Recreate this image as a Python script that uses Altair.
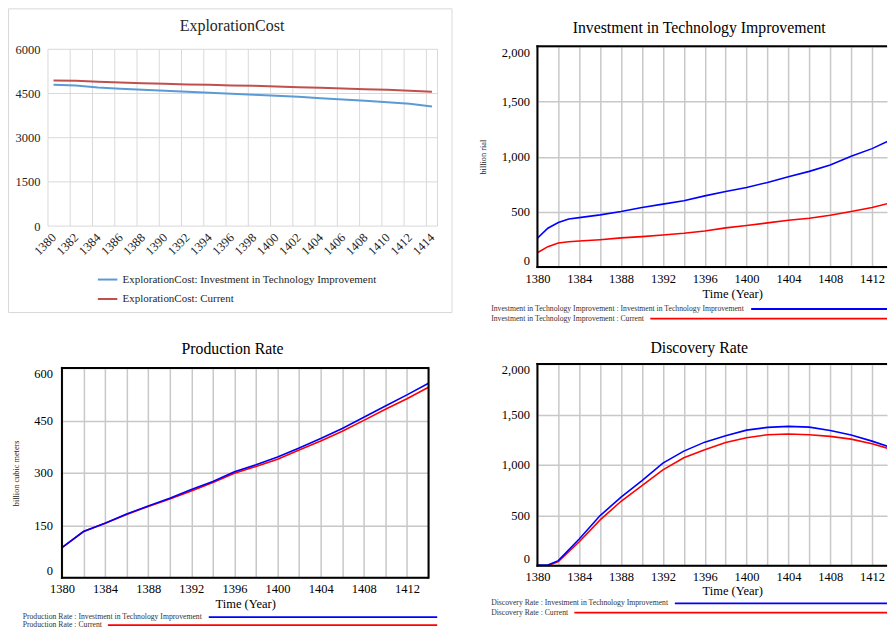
import altair as alt
import pandas as pd

FONT = "Liberation Serif"

# ---------------- data ----------------
exp_title = "ExplorationCost"
exp_categories = list(range(1380, 1415))
exp_years = list(range(1380, 1415, 2))
exp_invest = [4794, 4771, 4703, 4658, 4624, 4590, 4556, 4523, 4489, 4455,
              4421, 4387, 4342, 4297, 4251, 4206, 4150, 4059]
exp_current = [4941, 4929, 4895, 4873, 4850, 4828, 4805, 4794, 4771, 4760,
               4737, 4715, 4692, 4669, 4647, 4624, 4590, 4556]
exp_names = ["ExplorationCost: Investment in Technology Improvement",
             "ExplorationCost: Current"]
exp_colors = ["#5b9bd5", "#c0504d"]
exp_yticks = [0, 1500, 3000, 4500, 6000]

scenarios = ["Investment in Technology Improvement", "Current"]
vensim_colors = ["#0000ff", "#ff0000"]
vensim_xgrid = list(range(1380, 1415, 2))

inv_title = "Investment in Technology Improvement"
inv_years = [1380, 1381, 1382, 1383, 1384, 1386, 1388, 1390, 1392, 1394,
             1396, 1398, 1400, 1402, 1404, 1406, 1408, 1410, 1412, 1414]
inv_invest = [261, 352, 403, 436, 448, 473, 503, 539, 570, 600,
              645, 685, 721, 767, 818, 867, 924, 1003, 1073, 1161]
inv_current = [130, 185, 218, 230, 236, 248, 264, 276, 291, 306,
               327, 355, 376, 400, 424, 442, 470, 503, 539, 588]
inv_yticks = [0, 500, 1000, 1500, 2000]
inv_unit = "billion rial"

prod_title = "Production Rate"
prod_years = list(range(1380, 1415, 2))
prod_invest = [86, 132, 156, 182, 205, 227, 252, 275, 303, 323,
               345, 371, 398, 427, 459, 491, 523, 556]
prod_current = [86, 132, 156, 181, 204, 225, 248, 272, 299, 318,
                339, 365, 391, 419, 450, 482, 512, 545]
prod_yticks = [0, 150, 300, 450, 600]
prod_unit = "billion cubic meters"

disc_title = "Discovery Rate"
disc_years = [1380, 1381, 1382, 1384, 1386, 1388, 1390, 1392, 1394, 1396,
              1398, 1400, 1402, 1404, 1406, 1408, 1410, 1412, 1414]
disc_invest = [7, 7, 50, 265, 497, 679, 844, 1017, 1136, 1225,
               1288, 1344, 1371, 1381, 1374, 1341, 1295, 1235, 1166]
disc_current = [0, 0, 40, 238, 454, 639, 795, 950, 1070, 1149,
                1222, 1268, 1298, 1305, 1298, 1282, 1255, 1209, 1149]
disc_yticks = [0, 500, 1000, 1500, 2000]

x_title = "Time (Year)"

one = pd.DataFrame({"k": [0]})


def cell(x0, x1, y0, y1):
    """invisible rectangle that fixes the panel's layout bounds"""
    return alt.Chart(one).mark_rect(opacity=0).encode(
        x=alt.value(x0), x2=alt.value(x1), y=alt.value(y0), y2=alt.value(y1))


def text_at(t, x, y, size, color="black", align="center"):
    return alt.Chart(pd.DataFrame({"t": [t]})).mark_text(
        font=FONT, fontSize=size, color=color, align=align, baseline="middle"
    ).encode(text="t:N", x=alt.value(x), y=alt.value(y))


# ---------------- panel 1 : Excel style ----------------
# The view is offset from the plot area (14px right, 3px up) so that its origin
# lines up with the neighbouring panels in the grid layout.
SH = 14
SV = 3
W1, H1 = 376, 180
exp_df = pd.DataFrame({
    "year": exp_years + exp_years,
    "value": exp_invest + exp_current,
    "series": [exp_names[0]] * len(exp_years) + [exp_names[1]] * len(exp_years),
})
grid_df = pd.DataFrame({"b": [c - 0.5 for c in exp_categories[::2]] + [exp_categories[-1] + 0.5]})
hgrid_df = pd.DataFrame({"v": exp_yticks})
xs1 = alt.Scale(domain=[exp_categories[0] - 0.5, exp_categories[-1] + 0.5],
                range=[-SH, W1], nice=False, zero=False)
ys1 = alt.Scale(domain=[0, 6000], range=[H1, SV], nice=False)
ax1x = alt.Axis(values=exp_years, format="d", labelAngle=-45, labelAlign="right",
                labelBaseline="middle", labelFont=FONT, labelFontSize=12.5,
                labelColor="#262626", labelPadding=9, labelFlush=False,
                labelOverlap=False, grid=False, ticks=False, domain=False, title=None)
ax1y = alt.Axis(values=exp_yticks, format="d", labelFont=FONT, labelFontSize=12.5,
                labelColor="#262626", labelPadding=8, offset=SH, grid=False,
                ticks=False, domain=False, title=None)

cell1 = cell(-54, 392, -38, 268)
border1 = alt.Chart(one).mark_rect(fillOpacity=0, stroke="#d9d9d9", strokeWidth=1).encode(
    x=alt.value(-53.5), x2=alt.value(390.5), y=alt.value(-37.5), y2=alt.value(266.5))
hgrid1 = alt.Chart(hgrid_df).mark_rule(color="#d9d9d9", strokeWidth=1).encode(
    y=alt.Y("v:Q", scale=ys1, axis=ax1y), x=alt.value(-SH), x2=alt.value(W1))
vgrid1 = alt.Chart(grid_df).mark_rule(color="#d9d9d9", strokeWidth=1).encode(
    x=alt.X("b:Q", scale=xs1, axis=ax1x), y=alt.value(SV), y2=alt.value(H1))
lines1 = alt.Chart(exp_df).mark_line(strokeWidth=2).encode(
    x=alt.X("year:Q", scale=xs1, axis=ax1x),
    y=alt.Y("value:Q", scale=ys1, axis=ax1y),
    color=alt.Color("series:N", scale=alt.Scale(domain=exp_names, range=exp_colors),
                    legend=alt.Legend(title=None, orient="none", legendX=34.7, legendY=222.5,
                                      symbolType="stroke", symbolSize=380, symbolStrokeWidth=2,
                                      labelFont=FONT, labelFontSize=11, labelColor="#262626",
                                      labelOffset=4, rowPadding=3.5, padding=0, labelLimit=400)),
)
title1 = text_at(exp_title, 170.3, -20.3, 16, "#262626")
p1 = alt.layer(cell1, border1, hgrid1, vgrid1, lines1, title1).properties(width=W1, height=H1)


# ---------------- Vensim panels ----------------
def vensim(title, years, v_inv, v_cur, ytickv, ytitle, W, H, xmax, cellbox,
           title_xy, ylab_pad, ytitle_pad, xtitle_pad, xtitle_x,
           leg_x, leg_rows, leg_starts, leg_end, right_frame):
    xs = alt.Scale(domain=[1380, xmax], nice=False, zero=False)
    ys = alt.Scale(domain=[ytickv[0], ytickv[-1]], nice=False)
    xkw = dict(values=[v for v in vensim_xgrid if v <= xmax], format="d",
               labelExpr="datum.value % 4 == 0 ? datum.label : ''",
               labelFont=FONT, labelFontSize=12.5, labelColor="black", labelPadding=5,
               labelFlush=False, labelOverlap=False, grid=True, gridColor="#c8c8c8",
               gridWidth=1.5, ticks=False, domain=False, title=x_title, titleFont=FONT,
               titleFontSize=12.5, titleFontWeight="normal", titleColor="black",
               titlePadding=xtitle_pad)
    if xtitle_x is not None:
        xkw["titleX"] = xtitle_x
    ax_x = alt.Axis(**xkw)
    baseline = {
        "condition": [
            {"test": f"datum.value == {ytickv[0]}", "value": "bottom"},
            {"test": f"datum.value == {ytickv[-1]}", "value": "top"},
        ],
        "value": "middle",
    }
    ykw = dict(values=ytickv, format=",.0f", labelFont=FONT, labelFontSize=12.5,
               labelColor="black", labelPadding=ylab_pad, labelBaseline=baseline,
               grid=True, gridColor="#c8c8c8",
               gridWidth=1.5, ticks=False, domain=False)
    if ytitle:
        ykw.update(title=ytitle, titleFont=FONT, titleFontSize=8.3, titleFontWeight="normal",
                   titleColor="#222222", titlePadding=ytitle_pad)
    else:
        ykw["title"] = None
    ax_y = alt.Axis(**ykw)

    df = pd.DataFrame({"year": years, "a": v_inv, "b": v_cur})
    base = alt.Chart(df)
    l_cur = base.mark_line(color=vensim_colors[1], strokeWidth=1.6, clip=True).encode(
        x=alt.X("year:Q", scale=xs, axis=ax_x), y=alt.Y("b:Q", scale=ys, axis=ax_y))
    l_inv = base.mark_line(color=vensim_colors[0], strokeWidth=1.6, clip=True).encode(
        x=alt.X("year:Q", scale=xs, axis=ax_x), y=alt.Y("a:Q", scale=ys, axis=ax_y))

    fr = alt.Chart(one).mark_rule(color="black", strokeWidth=2)
    frames = [
        fr.encode(x=alt.value(0), y=alt.value(-1), y2=alt.value(H + 1)),
        fr.encode(x=alt.value(-1), x2=alt.value(W), y=alt.value(0)),
        fr.encode(x=alt.value(-1), x2=alt.value(W), y=alt.value(H)),
    ]
    if right_frame:
        frames.append(fr.encode(x=alt.value(W), y=alt.value(-1), y2=alt.value(H + 1)))

    legend = []
    for i, sc in enumerate(scenarios):
        name = f"{title} : {sc}"
        legend.append(text_at(name, leg_x, leg_rows[i], 7.7, "#333333", "left"))
        legend.append(alt.Chart(one).mark_rule(color=vensim_colors[i], strokeWidth=1.8).encode(
            x=alt.value(leg_starts[i]), x2=alt.value(leg_end), y=alt.value(leg_rows[i])))

    ttl = text_at(title, title_xy[0], title_xy[1], 15.8)
    x0, x1, y0, y1 = cellbox
    return alt.layer(cell(x0, x1, y0, y1), l_cur, l_inv, *frames, *legend, ttl).properties(
        width=W, height=H)


XMAX_R = 1380 + 350 / 10.47   # right-hand panels are cut by the window edge

p2 = vensim(inv_title, inv_years, inv_invest, inv_current, inv_yticks, inv_unit,
            350, 221, XMAX_R, (-84, 350, -38, 278), (162, -18.7),
            8, 14, 3, 195, -46.3, [263, 272.7], [214, 113], 350, False)
p3 = vensim(prod_title, prod_years, prod_invest, prod_current, prod_yticks, prod_unit,
            367, 210, 1414, (-54, 392, -54, 262), (170.8, -18.7),
            9.5, 13.4, 2, None, -39.3, [249.5, 257.5], [147, 46], 375.7, True)
p4 = vensim(disc_title, disc_years, disc_invest, disc_current, disc_yticks, None,
            350, 202, XMAX_R, (-84, 350, -40, 266), (162, -16),
            8, 0, 1, 195, -46.3, [239.7, 249], [137.6, 37], 350, False)

col1 = alt.vconcat(p1, p3, spacing=0)
col2 = alt.vconcat(p2, p4, spacing=0)
chart = alt.hconcat(col1, col2, spacing=0).properties(padding=0).configure_view(strokeOpacity=0)

chart.save("out.html", embed_options={"renderer": "svg", "actions": False})
